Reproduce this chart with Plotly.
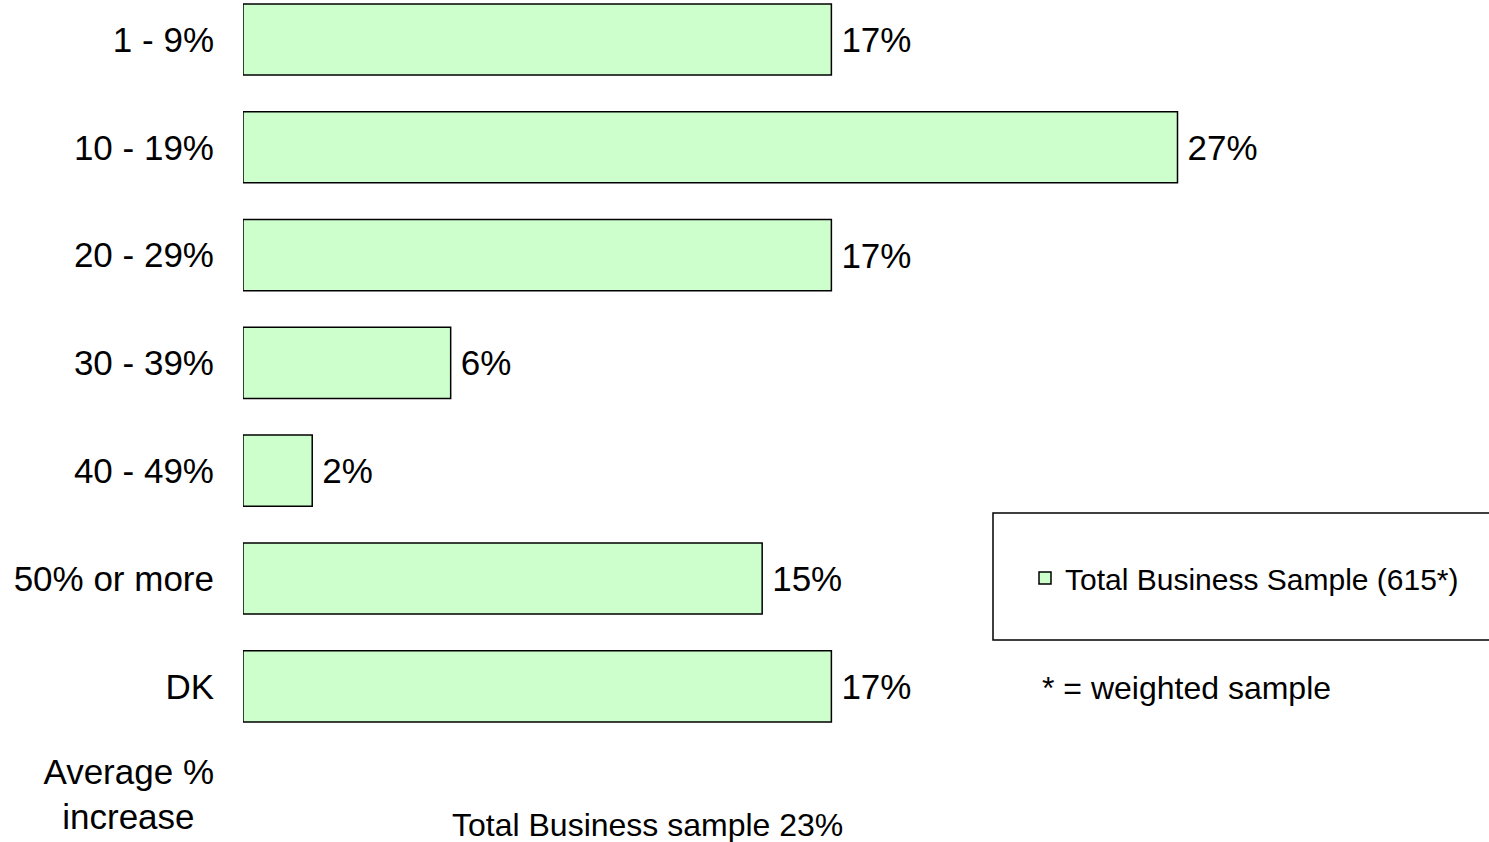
import plotly.graph_objects as go

categories = ["1 - 9%", "10 - 19%", "20 - 29%", "30 - 39%", "40 - 49%", "50% or more", "DK", "Average %<br>increase\u00a0\u00a0"]
values = [17, 27, 17, 6, 2, 15, 17, None]
series_name = "Total Business Sample (615*)"
note_weighted = "* = weighted sample"
note_average = "Total Business sample 23%"

FONT = "Liberation Sans, Arial, sans-serif"

fig = go.Figure()
fig.add_trace(go.Bar(
    x=values,
    y=categories,
    orientation="h",
    name=series_name,
    marker=dict(color="#CCFFCC", line=dict(color="#000000", width=1.5)),
    width=0.66,
    text=[f"\u2009{v}%" if v is not None else "" for v in values],
    textposition="outside",
    textfont=dict(family=FONT, size=35, color="#000000"),
    cliponaxis=False,
    showlegend=True,
))

W, H = 1489, 842
L = 243

fig.update_layout(
    width=W, height=H,
    margin=dict(l=L, r=0, t=0, b=0),
    paper_bgcolor="white",
    plot_bgcolor="white",
    font=dict(family=FONT, color="#000000"),
    showlegend=True,
    legend=dict(
        x=(1025 - L) / (W - L), xanchor="left",
        y=1 - 578 / H, yanchor="middle",
        font=dict(family=FONT, size=30, color="#000000"),
        bgcolor="rgba(0,0,0,0)", borderwidth=0,
    ),
    xaxis=dict(range=[0, 36], showticklabels=False, showgrid=False, zeroline=False,
               showline=False, ticks=""),
    yaxis=dict(type="category", categoryorder="array", categoryarray=categories,
               range=[7.444, -0.366], autorange=False,
               showgrid=False, zeroline=False, showline=False, ticks="",
               ticklabelstandoff=28,
               tickfont=dict(family=FONT, size=35, color="#000000")),
    shapes=[dict(type="rect", xref="paper", yref="paper",
                 x0=(993 - L) / (W - L), x1=1.002,
                 y0=1 - 640 / H, y1=1 - 513 / H,
                 line=dict(color="#000000", width=1.5), fillcolor="rgba(0,0,0,0)")],
    annotations=[
        dict(xref="paper", yref="paper", x=(1040 - L) / (W - L), y=1 - 688 / H,
             xanchor="left", yanchor="middle", showarrow=False, text=note_weighted,
             font=dict(family=FONT, size=32, color="#000000")),
        dict(xref="paper", yref="paper", x=(647 - L) / (W - L), y=1 - 825 / H,
             xanchor="center", yanchor="middle", showarrow=False, text=note_average,
             font=dict(family=FONT, size=32, color="#000000")),
    ],
)

fig.write_html("out.html", config={"displayModeBar": False},
               post_script="document.body.style.margin='0';document.body.style.overflow='hidden';")
